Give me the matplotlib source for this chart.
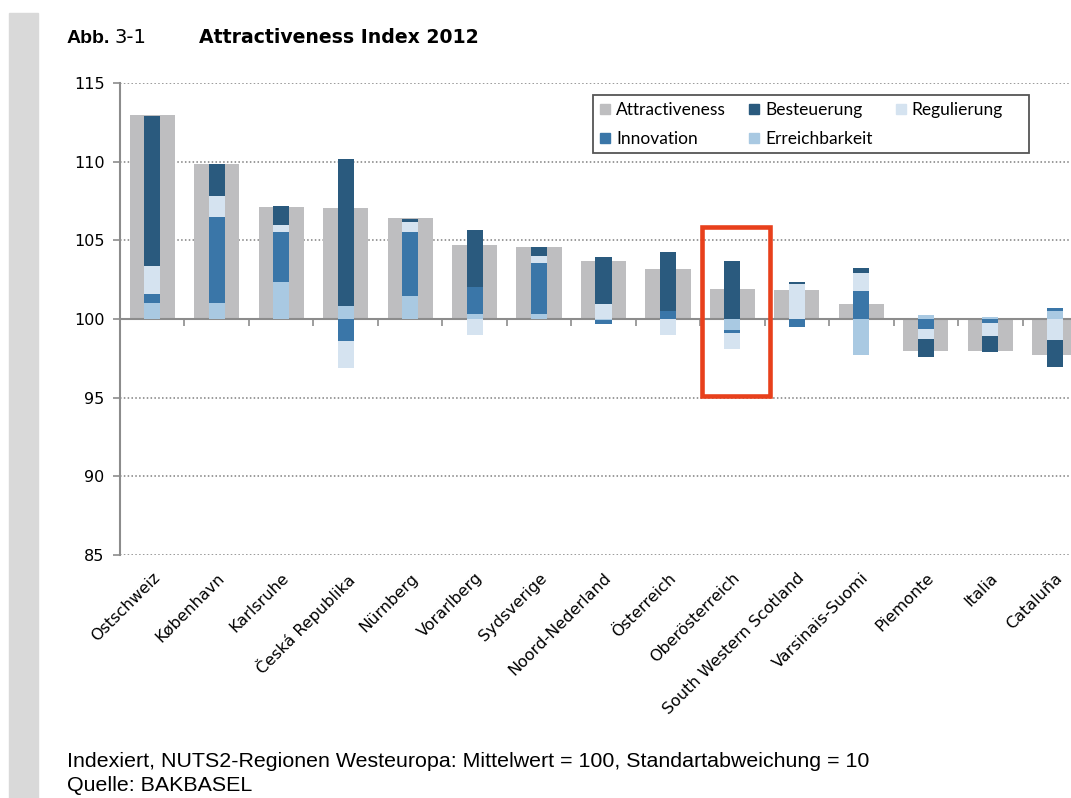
import matplotlib
matplotlib.use("Agg")
import numpy as np
import matplotlib.pyplot as plt
from matplotlib.patches import Rectangle
from matplotlib.lines import Line2D

plt.rcParams["font.family"] = "DejaVu Sans"

regions = ["Ostschweiz", "København", "Karlsruhe", "Česká Republika", "Nürnberg",
           "Vorarlberg", "Sydsverige", "Noord-Nederland", "Österreich", "Oberösterreich",
           "South Western Scotland", "Varsinais-Suomi", "Piemonte", "Italia", "Cataluña"]

# index values (mean = 100)
attractiveness = [112.95, 109.85, 107.15, 107.05, 106.4, 104.7, 104.6, 103.7,
                  103.15, 101.9, 101.85, 100.95, 97.95, 97.95, 97.7]

# contributions relative to 100
erreichbarkeit = [1.01, 1.01, 2.36, 0.8, 1.45, 0.34, 0.34, -0.05, 0.0, -0.67, 0.0, -2.29, 0.25, 0.15, 0.5]
innovation = [0.57, 5.45, 3.2, -1.41, 4.11, 1.72, 3.24, -0.25, 0.5, -0.19, -0.53, 1.79, -0.63, -0.27, 0.19]
regulierung = [1.79, 1.33, 0.44, -1.68, 0.59, -0.99, 0.44, 0.95, -1.0, -1.03, 2.25, 1.13, -0.67, -0.8, -1.33]
besteuerung = [9.55, 2.03, 1.16, 9.35, 0.21, 3.62, 0.55, 2.98, 3.73, 3.69, 0.13, 0.34, -1.1, -1.01, -1.74]

col_gray = "#BEBEC0"
col_best = "#2A5A7E"
col_reg = "#D5E3F0"
col_inn = "#3A76A8"
col_err = "#A9C9E2"
axis_col = "#8C8C8C"

fig = plt.figure(figsize=(10.71, 7.98), dpi=100)
fig.patches.append(Rectangle((9 / 1071, 0), 29 / 1071, 1 - 13 / 798,
                             transform=fig.transFigure, color="#D9D9D9", zorder=0))

ax = fig.add_axes([120 / 1071, 1 - 555 / 798, 967 / 1071, 472 / 798])
x = np.arange(len(regions))

ax.bar(x, np.array(attractiveness) - 100, bottom=100, width=0.70, color=col_gray, zorder=2)

pos = np.zeros(len(regions))
neg = np.zeros(len(regions))
for vals, c in [(erreichbarkeit, col_err), (innovation, col_inn),
                (regulierung, col_reg), (besteuerung, col_best)]:
    v = np.array(vals)
    base = np.where(v >= 0, pos, neg)
    ax.bar(x, v, bottom=100 + base, width=0.25, color=c, zorder=5)
    pos = pos + np.clip(v, 0, None)
    neg = neg + np.clip(v, None, 0)

ax.set_xlim(-0.5, len(regions) - 0.5)
ax.set_ylim(85, 115)
ax.set_yticks(range(85, 116, 5))
ax.yaxis.grid(True, linestyle=(0, (1, 1.5)), color="#7F7F7F", linewidth=1.1, zorder=0)
ax.set_axisbelow(True)
ax.tick_params(axis="y", labelsize=11.5, colors=axis_col, labelcolor="black", length=5, width=1.2, pad=6)

for s in ["top", "right"]:
    ax.spines[s].set_visible(False)
ax.spines["left"].set_color(axis_col)
ax.spines["left"].set_linewidth(1.5)
ax.spines["bottom"].set_position(("data", 100))
ax.spines["bottom"].set_color(axis_col)
ax.spines["bottom"].set_linewidth(1.5)
ax.spines["bottom"].set_zorder(4)
ax.set_xticks(x + 0.5)
ax.set_xticklabels([])
ax.tick_params(axis="x", colors=axis_col, length=5, width=1.2, direction="out")

sec = ax.secondary_xaxis(0)
sec.set_xticks(x)
sec.set_xticklabels(regions, rotation=45, ha="right", rotation_mode="anchor", fontsize=11.5)
sec.tick_params(length=0, pad=11)
sec.spines["bottom"].set_visible(False)

# highlight box
ax.add_patch(Rectangle((8.53, 95.08), 1.05, 10.75, fill=False, edgecolor="#E8401C",
                       linewidth=3.3, zorder=6, clip_on=False))

# legend frame drawn separately to match the original box size
fig.patches.append(Rectangle((593 / 1071, 1 - 153 / 798), 436 / 1071, 58 / 798,
                             transform=fig.transFigure, fill=False,
                             edgecolor="#555555", linewidth=1.3, zorder=3))
handles = [
    Line2D([], [], marker="s", linestyle="", markersize=7, color=col_gray),
    Line2D([], [], marker="s", linestyle="", markersize=7, color=col_inn),
    Line2D([], [], marker="s", linestyle="", markersize=7, color=col_best),
    Line2D([], [], marker="s", linestyle="", markersize=7, color=col_err),
    Line2D([], [], marker="s", linestyle="", markersize=7, color=col_reg),
]
labels = ["Attractiveness", "Innovation", "Besteuerung", "Erreichbarkeit", "Regulierung"]
leg = fig.legend(handles, labels, ncol=3, loc="upper left",
                 bbox_to_anchor=(593 / 1071, 1 - 96 / 798), borderaxespad=0,
                 frameon=False, prop={"family": "Lato", "size": 12.5},
                 handlelength=0.7, handletextpad=0.3, columnspacing=1.25,
                 labelspacing=0.72, borderpad=0.35)

fig.text(67 / 1071, 1 - 43 / 798, "Abb.", fontsize=14, fontweight="bold",
         family="Liberation Sans", va="baseline")
fig.text(115 / 1071, 1 - 43 / 798, "3-1", fontsize=14, family="DejaVu Sans", va="baseline")
fig.text(199 / 1071, 1 - 43 / 798, "Attractiveness Index 2012", fontsize=13.6, fontweight="bold",
         family="DejaVu Sans", va="baseline")

fig.text(67 / 1071, 1 - 767 / 798,
         "Indexiert, NUTS2-Regionen Westeuropa: Mittelwert = 100, Standartabweichung = 10",
         fontsize=15.4, family="Liberation Sans", va="baseline")
fig.text(67 / 1071, 1 - 791 / 798, "Quelle: BAKBASEL", fontsize=15.4,
         family="Liberation Sans", va="baseline")

fig.savefig("out.png", dpi=100)
